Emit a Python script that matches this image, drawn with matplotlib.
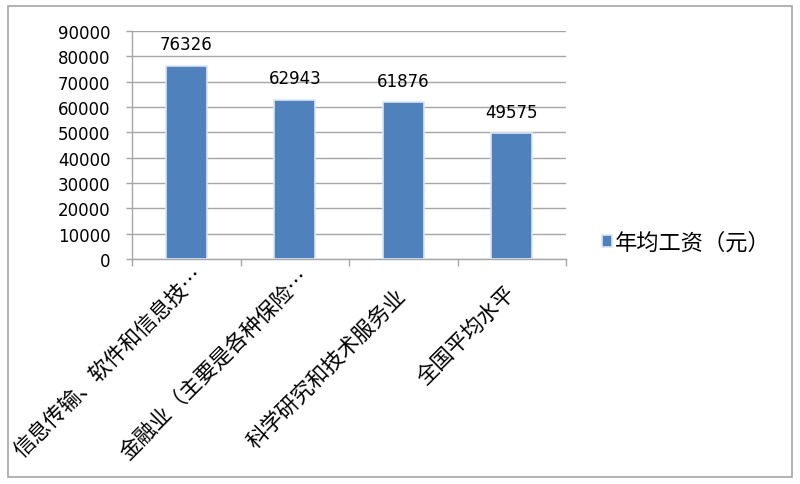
import numpy as np
import matplotlib.pyplot as plt
from matplotlib.patches import Rectangle
from matplotlib.transforms import ScaledTranslation

# data
categories = ['信息传输、软件和信息技…', '金融业（主要是各种保险…',
              '科学研究和技术服务业', '全国平均水平']
wages = [76326, 62943, 61876, 49575]
series_name = '年均工资（元）'
yticks = np.arange(0, 90001, 10000)

# pixel nudges for the rotated category labels (Excel places them oddly)
label_nudge = [(14, 12), (11, 14), (-1, 33), (0, 30)]

cjk = ['Noto Sans CJK SC', 'DejaVu Sans']
grid_c = '#A6A6A6'
bar_c = '#4F81BD'

fig = plt.figure(figsize=(8, 4.85), dpi=100)
ax = fig.add_axes([132 / 800, 1 - 260 / 485, (566 - 132) / 800, (260 - 32) / 485])

x = np.arange(len(categories))
bars = ax.bar(x, wages, width=0.38, color=bar_c, edgecolor='#DCE6F2',
              linewidth=1.2, label=series_name, zorder=3)

for b, v in zip(bars, wages):
    ax.annotate(str(v), (b.get_x() + b.get_width() / 2, v),
                xytext=(0, 9), textcoords='offset points',
                ha='center', va='bottom', fontsize=12, family='DejaVu Sans')

ax.set_xlim(-0.5, len(categories) - 0.5)
ax.set_ylim(0, 90000)
ax.set_yticks(yticks)
ax.set_yticklabels([str(t) for t in yticks], fontsize=12)
ax.yaxis.grid(True, color=grid_c, linewidth=1, zorder=0)
ax.set_axisbelow(True)

ax.set_xticks(x)
ax.set_xticklabels(categories, rotation=45, ha='right', va='center',
                   rotation_mode='anchor', fontsize=15.5, family=cjk)
ax.set_xticks(np.arange(-0.5, len(categories)), minor=True)
ax.tick_params(axis='x', which='major', length=0, pad=0)
ax.tick_params(axis='x', which='minor', length=5, color=grid_c, width=1)
ax.tick_params(axis='y', length=4.5, color=grid_c, width=1, pad=11)

for lbl, (dx, dy) in zip(ax.get_xticklabels(), label_nudge):
    lbl.set_transform(lbl.get_transform() +
                      ScaledTranslation(dx / 100, -dy / 100, fig.dpi_scale_trans))

for s in ['top', 'right']:
    ax.spines[s].set_visible(False)
for s in ['left', 'bottom']:
    ax.spines[s].set_color(grid_c)
    ax.spines[s].set_linewidth(1)

leg = fig.legend(handles=[bars], labels=[series_name], loc='center left',
                 bbox_to_anchor=(602 / 800, 1 - 243 / 485), frameon=False,
                 handlelength=0.45, handleheight=0.45, handletextpad=0.15,
                 borderpad=0, borderaxespad=0,
                 prop={'family': cjk, 'size': 16})

fig.patches.append(Rectangle((8 / 800, 1 - 478 / 485), 784 / 800, 471 / 485,
                             transform=fig.transFigure, fill=False,
                             edgecolor=grid_c, linewidth=1.2))

fig.savefig('out.png', dpi=100)
